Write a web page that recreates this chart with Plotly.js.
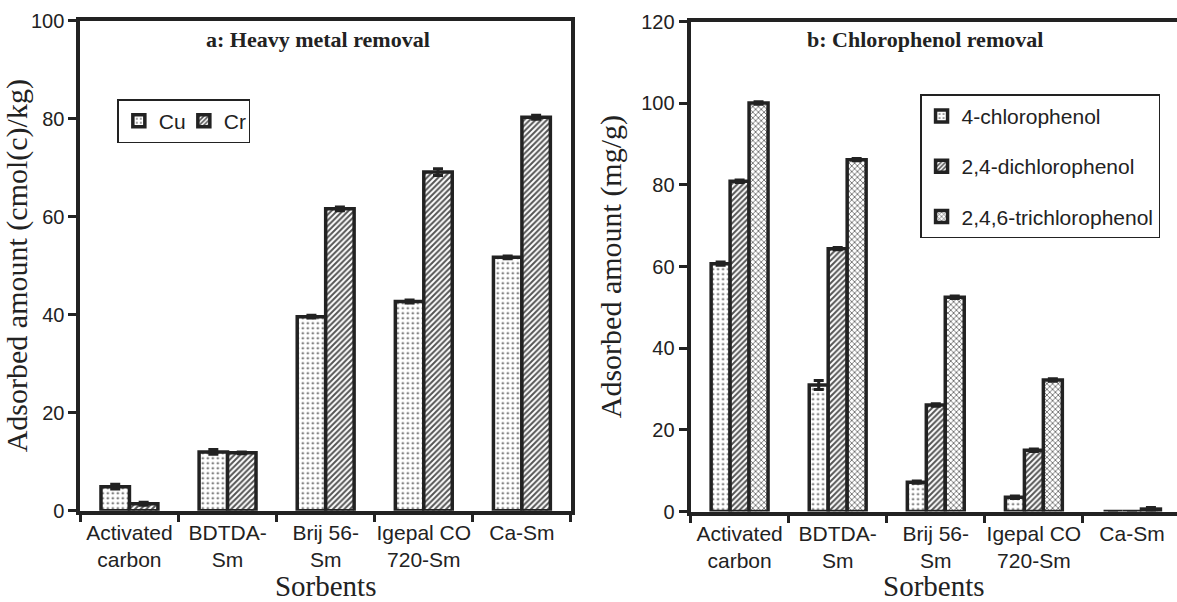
<!DOCTYPE html>
<html>
<head>
<meta charset="utf-8">
<script src="https://cdn.plot.ly/plotly-3.0.1.min.js"></script>
<style>html,body{margin:0;padding:0;background:#fff;}#chart{width:1177px;height:602px;}</style>
</head>
<body>
<div id="chart"></div>
<script>
// ---- data ----
const sorbents = ["Activated<br>carbon", "BDTDA-<br>Sm", "Brij 56-<br>Sm", "Igepal CO<br>720-Sm", "Ca-Sm"];

// panel a: heavy metal removal (cmol(c)/kg)
const cu = [4.9, 12.0, 39.6, 42.7, 51.7];
const cuErr = [0.5, 0.5, 0.3, 0.3, 0.3];
const cr = [1.4, 11.8, 61.6, 69.1, 80.3];
const crErr = [0.3, 0.2, 0.4, 0.7, 0.4];

// panel b: chlorophenol removal (mg/g)
const cp4 = [60.7, 31.0, 7.2, 3.5, 0];
const cp4Err = [0.4, 1.1, 0.3, 0.3, 0];
const dcp = [80.9, 64.4, 26.1, 15.0, 0];
const dcpErr = [0.3, 0.3, 0.3, 0.3, 0];
const tcp = [100.1, 86.2, 52.5, 32.2, 0.6];
const tcpErr = [0.3, 0.3, 0.3, 0.3, 0.4];

// ---- styles ----
const ink = "#222";
const sans = "Liberation Sans, Arial, sans-serif";
const serif = "Liberation Serif, Times New Roman, serif";
const outline = {color: ink, width: 3.5};
const patLight = {shape: ".", fgcolor: "#444", bgcolor: "#fff", size: 5, solidity: 0.15};
const patDark = {shape: "/", fgcolor: "#555", bgcolor: "#fff", size: 4, solidity: 0.5};
const patMid = {shape: "x", fgcolor: "#555", bgcolor: "#fff", size: 4, solidity: 0.35};
function err(a){ return {type: "data", array: a, visible: true, color: ink, thickness: 3, width: 5}; }

const traces = [
  {type: "bar", name: "Cu", x: sorbents, y: cu, error_y: err(cuErr), xaxis: "x", yaxis: "y", legend: "legend",
   marker: {color: "#fff", pattern: patLight, line: outline}},
  {type: "bar", name: "Cr", x: sorbents, y: cr, error_y: err(crErr), xaxis: "x", yaxis: "y", legend: "legend",
   marker: {color: "#fff", pattern: patDark, line: outline}},
  {type: "bar", name: "4-chlorophenol", x: sorbents, y: cp4, error_y: err(cp4Err), xaxis: "x2", yaxis: "y2", legend: "legend2", legendgroup: "g1",
   marker: {color: "#fff", pattern: patLight, line: outline}},
  {type: "bar", name: "2,4-dichlorophenol", x: sorbents, y: dcp, error_y: err(dcpErr), xaxis: "x2", yaxis: "y2", legend: "legend2", legendgroup: "g2",
   marker: {color: "#fff", pattern: patDark, line: outline}},
  {type: "bar", name: "2,4,6-trichlorophenol", x: sorbents, y: tcp, error_y: err(tcpErr), xaxis: "x2", yaxis: "y2", legend: "legend2", legendgroup: "g3",
   marker: {color: "#fff", pattern: patMid, line: outline}}
];

const xCommon = {
  type: "category", tickson: "boundaries", ticks: "outside", ticklen: 7, tickwidth: 3, tickcolor: ink,
  showline: true, linewidth: 4, linecolor: ink, showgrid: false, zeroline: false, tickangle: 0,
  tickfont: {family: sans, size: 21, color: ink},
  title: {text: "Sorbents", font: {family: serif, size: 29, color: ink}, standoff: 10},
  fixedrange: true
};
const yCommon = {
  ticks: "outside", ticklen: 8, tickwidth: 3, tickcolor: ink,
  showline: true, linewidth: 4, linecolor: ink, showgrid: false, zeroline: false,
  tickfont: {family: sans, size: 20, color: ink}, dtick: 20,
  fixedrange: true
};

const layout = {
  width: 1177, height: 602,
  margin: {l: 0, r: 0, t: 0, b: 0},
  paper_bgcolor: "#fff", plot_bgcolor: "#fff",
  barmode: "group",
  bargap: 0.42, bargroupgap: 0,
  showlegend: true,
  xaxis: Object.assign({}, xCommon, {domain: [0.0683, 0.4851], mirror: true, anchor: "y"}),
  yaxis: Object.assign({}, yCommon, {domain: [0.1517, 0.9656], range: [0, 100], mirror: true, anchor: "x",
    title: {text: "Adsorbed amount (cmol(c)/kg)", font: {family: serif, size: 30, color: ink}, standoff: 13}}),
  xaxis2: Object.assign({}, xCommon, {domain: [0.5867, 1], range: [-0.5, 4.459], mirror: true, anchor: "y2"}),
  yaxis2: Object.assign({}, yCommon, {domain: [0.1503, 0.9640], range: [0, 120], mirror: false, anchor: "x2",
    title: {text: "Adsorbed amount (mg/g)", font: {family: serif, size: 30, color: ink}, standoff: 12}}),
  legend: {
    orientation: "h", x: 0.0997, y: 0.8355, xanchor: "left", yanchor: "top",
    bgcolor: "#fff", bordercolor: ink, borderwidth: 1.5, entrywidth: 20,
    font: {family: sans, size: 21, color: ink}, itemwidth: 30
  },
  legend2: {
    orientation: "v", x: 0.7817, y: 0.8434, xanchor: "left", yanchor: "top",
    bgcolor: "#fff", bordercolor: ink, borderwidth: 1.5, tracegroupgap: 20,
    font: {family: sans, size: 21, color: ink}, itemwidth: 30
  },
  annotations: [
    {text: "<b>a: Heavy metal removal</b>", xref: "paper", yref: "paper", x: 0.2698, y: 0.9336,
     xanchor: "center", yanchor: "middle", showarrow: false, font: {family: serif, size: 22, color: ink}},
    {text: "<b>b: Chlorophenol removal</b>", xref: "paper", yref: "paper", x: 0.7856, y: 0.9336,
     xanchor: "center", yanchor: "middle", showarrow: false, font: {family: serif, size: 22, color: ink}}
  ]
};

Plotly.newPlot("chart", traces, layout, {staticPlot: true, displayModeBar: false});
</script>
</body>
</html>
